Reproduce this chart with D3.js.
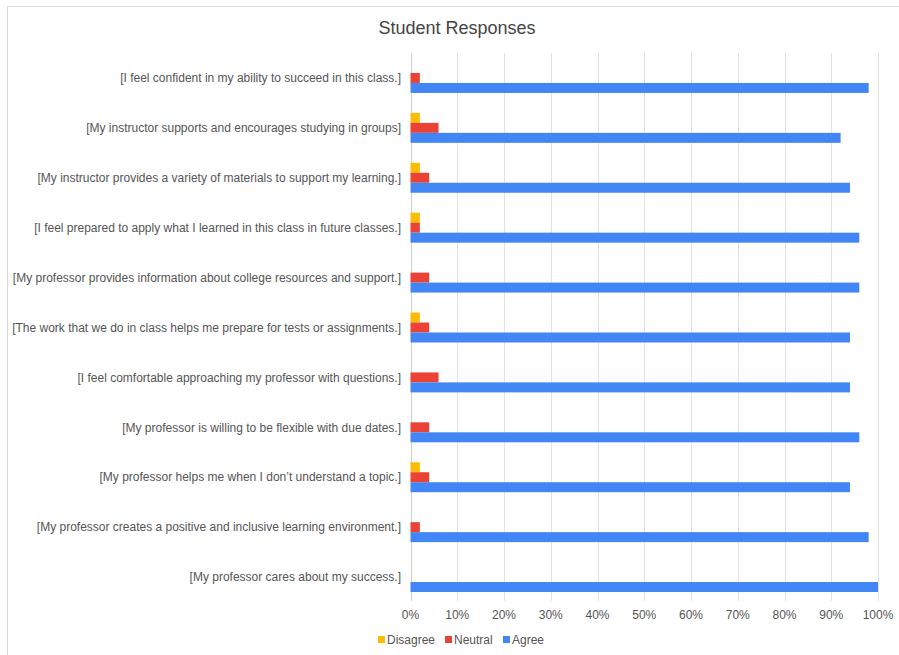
<!DOCTYPE html>
<meta charset="utf-8">
<style>
  body { margin: 0; background: #fff; }
  text { font-family: Arial, "Liberation Sans", sans-serif; }
</style>
<script src="https://d3js.org/d3.v7.min.js"></script>
<body>
<div id="chart"></div>
<script>
  // survey statements (top to bottom)
  const questions = [
    "[I feel confident in my ability to succeed in this class.]",
    "[My instructor supports and encourages studying in groups]",
    "[My instructor provides a variety of materials to support my learning.]",
    "[I feel prepared to apply what I learned in this class in future classes.]",
    "[My professor provides information about college resources and support.]",
    "[The work that we do in class helps me prepare for tests or assignments.]",
    "[I feel comfortable approaching my professor with questions.]",
    "[My professor is willing to be flexible with due dates.]",
    "[My professor helps me when I don\u2019t understand a topic.]",
    "[My professor creates a positive and inclusive learning environment.]",
    "[My professor cares about my success.]"
  ];
  const series = ["Disagree", "Neutral", "Agree"];
  // percentages
  const disagree = [0, 2, 2, 2, 0, 2, 0, 0, 2, 0, 0];
  const neutral  = [2, 6, 4, 2, 4, 4, 6, 4, 4, 2, 0];
  const agree    = [98, 92, 94, 96, 96, 94, 94, 96, 94, 98, 100];
  const xTicks = [0, 10, 20, 30, 40, 50, 60, 70, 80, 90, 100];

  const colors = {Disagree: "#fbbc04", Neutral: "#ea4335", Agree: "#4285f4"};
  const values = {Disagree: disagree, Neutral: neutral, Agree: agree};

  const W = 899, H = 655;
  const svg = d3.select("#chart").append("svg")
    .attr("width", W).attr("height", H);

  // 外框
  svg.append("rect")
    .attr("x", 7.5).attr("y", 6.5)
    .attr("width", W + 20).attr("height", H + 20)
    .attr("fill", "none").attr("stroke", "#d9d9d9");

  svg.append("text")
    .attr("x", 457).attr("y", 34)
    .attr("text-anchor", "middle")
    .attr("font-size", 18)
    .attr("fill", "#444")
    .text("Student Responses");

  const x = d3.scaleLinear().domain([0, 100]).range([410.5, 878]);
  const y = d3.scaleBand().domain(questions).range([53, 602])
    .paddingInner(0.4).paddingOuter(0.2);
  const ySub = d3.scaleBand().domain(series).range([0, y.bandwidth()]);

  // grid
  svg.append("g").selectAll("line")
    .data(xTicks)
    .join("line")
    .attr("x1", d => Math.round(x(d)) + 0.5)
    .attr("x2", d => Math.round(x(d)) + 0.5)
    .attr("y1", 53).attr("y2", 601)
    .attr("stroke", d => d === 0 ? "#cfcfcf" : "#e3e3e3")
    .attr("stroke-width", 1);

  // tick labels
  svg.append("g").selectAll("text")
    .data(xTicks)
    .join("text")
    .attr("x", d => x(d))
    .attr("y", 619)
    .attr("text-anchor", "middle")
    .attr("font-size", 12)
    .attr("fill", "#555")
    .text(d => d + "%");

  // category labels
  svg.append("g").selectAll("text")
    .data(questions)
    .join("text")
    .attr("x", 401)
    .attr("y", d => y(d) + y.bandwidth() / 2)
    .attr("dy", "0.35em")
    .attr("text-anchor", "end")
    .attr("font-size", 12)
    .attr("fill", "#555")
    .text(d => d);

  // bars
  const groups = svg.append("g").selectAll("g")
    .data(questions)
    .join("g")
    .attr("transform", d => `translate(0,${y(d)})`);

  groups.selectAll("rect")
    .data((q, i) => series.map(s => ({s, v: values[s][i]})).filter(d => d.v > 0))
    .join("rect")
    .attr("x", x(0))
    .attr("y", d => ySub(d.s))
    .attr("width", d => x(d.v) - x(0))
    .attr("height", ySub.bandwidth())
    .attr("fill", d => colors[d.s]);

  // legend
  const legendX = [378, 445, 503];
  const legend = svg.append("g").selectAll("g")
    .data(series)
    .join("g")
    .attr("transform", (d, i) => `translate(${legendX[i]},640)`);
  legend.append("rect")
    .attr("x", 0).attr("y", -4)
    .attr("width", 7).attr("height", 7)
    .attr("fill", d => colors[d]);
  legend.append("text")
    .attr("x", 9).attr("y", 0)
    .attr("dy", "0.35em")
    .attr("font-size", 12)
    .attr("fill", "#555")
    .text(d => d);
</script>
</body>
